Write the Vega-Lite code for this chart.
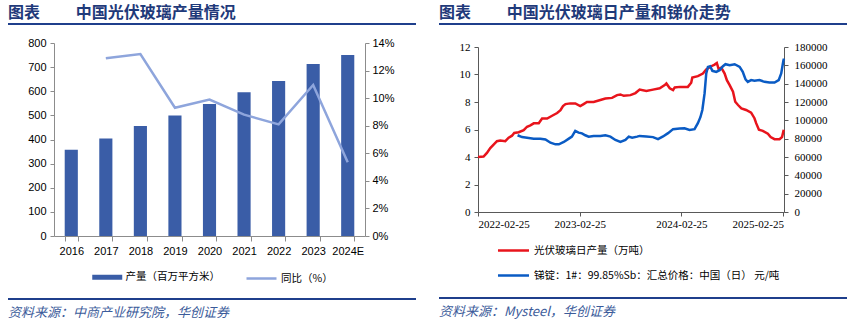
{
  "$schema": "https://vega.github.io/schema/vega-lite/v6.json",
  "background": "white",
  "padding": {"left": 8, "top": 5, "right": 5, "bottom": 0},
  "config": {"view": {"stroke": null}, "font": "Liberation Sans"},
  "resolve": {"scale": {"fill": "independent", "stroke": "independent"}, "legend": {"fill": "independent", "stroke": "independent"}},
  "datasets": {
    "prod": [
      {"year": "2016", "output": 357, "yoy": null},
      {"year": "2017", "output": 404, "yoy": 0.129},
      {"year": "2018", "output": 456, "yoy": 0.132},
      {"year": "2019", "output": 499, "yoy": 0.093},
      {"year": "2020", "output": 547, "yoy": 0.099},
      {"year": "2021", "output": 596, "yoy": 0.088},
      {"year": "2022", "output": 642, "yoy": 0.081},
      {"year": "2023", "output": 713, "yoy": 0.1095},
      {"year": "2024E", "output": 750, "yoy": 0.0535}
    ],
    "glass": [
      {"date": "2022-02-25", "v": 4.0},
      {"date": "2022-03-17", "v": 4.03},
      {"date": "2022-03-29", "v": 4.3},
      {"date": "2022-04-10", "v": 4.65},
      {"date": "2022-04-22", "v": 4.9},
      {"date": "2022-05-04", "v": 5.15},
      {"date": "2022-05-16", "v": 5.2},
      {"date": "2022-06-03", "v": 5.15},
      {"date": "2022-06-15", "v": 5.4},
      {"date": "2022-06-27", "v": 5.55},
      {"date": "2022-07-05", "v": 5.75},
      {"date": "2022-07-21", "v": 5.8},
      {"date": "2022-08-08", "v": 5.95},
      {"date": "2022-08-20", "v": 6.2},
      {"date": "2022-09-01", "v": 6.3},
      {"date": "2022-09-13", "v": 6.45},
      {"date": "2022-10-01", "v": 6.45},
      {"date": "2022-10-13", "v": 6.8},
      {"date": "2022-10-31", "v": 6.8},
      {"date": "2022-11-18", "v": 7.0},
      {"date": "2022-12-06", "v": 7.2},
      {"date": "2022-12-18", "v": 7.4},
      {"date": "2022-12-27", "v": 7.7},
      {"date": "2023-01-05", "v": 7.85},
      {"date": "2023-01-22", "v": 7.9},
      {"date": "2023-02-09", "v": 7.9},
      {"date": "2023-02-27", "v": 7.7},
      {"date": "2023-03-11", "v": 7.85},
      {"date": "2023-03-23", "v": 8.0},
      {"date": "2023-04-16", "v": 8.0},
      {"date": "2023-05-10", "v": 8.15},
      {"date": "2023-05-28", "v": 8.25},
      {"date": "2023-06-21", "v": 8.3},
      {"date": "2023-07-09", "v": 8.5},
      {"date": "2023-07-21", "v": 8.55},
      {"date": "2023-08-02", "v": 8.45},
      {"date": "2023-08-26", "v": 8.5},
      {"date": "2023-09-13", "v": 8.65},
      {"date": "2023-09-28", "v": 8.9},
      {"date": "2023-10-22", "v": 8.8},
      {"date": "2023-11-15", "v": 8.9},
      {"date": "2023-12-09", "v": 9.0},
      {"date": "2023-12-27", "v": 9.23},
      {"date": "2024-01-02", "v": 9.35},
      {"date": "2024-01-14", "v": 9.0},
      {"date": "2024-01-26", "v": 8.87},
      {"date": "2024-02-01", "v": 9.06},
      {"date": "2024-02-19", "v": 9.1},
      {"date": "2024-03-19", "v": 9.1},
      {"date": "2024-03-31", "v": 9.4},
      {"date": "2024-04-04", "v": 9.78},
      {"date": "2024-04-24", "v": 9.88},
      {"date": "2024-05-12", "v": 10.07},
      {"date": "2024-05-24", "v": 10.36},
      {"date": "2024-06-11", "v": 10.6},
      {"date": "2024-06-23", "v": 10.72},
      {"date": "2024-07-01", "v": 10.84},
      {"date": "2024-07-08", "v": 10.36},
      {"date": "2024-07-17", "v": 10.5},
      {"date": "2024-07-29", "v": 10.07},
      {"date": "2024-08-06", "v": 9.59},
      {"date": "2024-08-16", "v": 9.23},
      {"date": "2024-08-28", "v": 8.75},
      {"date": "2024-09-05", "v": 8.02},
      {"date": "2024-09-15", "v": 7.78},
      {"date": "2024-09-27", "v": 7.54},
      {"date": "2024-10-14", "v": 7.42},
      {"date": "2024-11-01", "v": 7.23},
      {"date": "2024-11-13", "v": 6.82},
      {"date": "2024-11-19", "v": 6.46},
      {"date": "2024-11-29", "v": 5.98},
      {"date": "2024-12-13", "v": 5.9},
      {"date": "2024-12-31", "v": 5.69},
      {"date": "2025-01-10", "v": 5.45},
      {"date": "2025-01-24", "v": 5.3},
      {"date": "2025-02-11", "v": 5.3},
      {"date": "2025-02-20", "v": 5.45},
      {"date": "2025-02-26", "v": 5.98}
    ],
    "sb": [
      {"date": "2022-07-17", "v": 83700},
      {"date": "2022-08-02", "v": 81750},
      {"date": "2022-08-20", "v": 81000},
      {"date": "2022-09-13", "v": 80000},
      {"date": "2022-10-07", "v": 80000},
      {"date": "2022-10-25", "v": 79200},
      {"date": "2022-11-12", "v": 75600},
      {"date": "2022-11-30", "v": 73800},
      {"date": "2022-12-12", "v": 73800},
      {"date": "2022-12-30", "v": 76400},
      {"date": "2023-01-17", "v": 80000},
      {"date": "2023-01-28", "v": 82200},
      {"date": "2023-02-09", "v": 88400},
      {"date": "2023-02-21", "v": 86600},
      {"date": "2023-03-05", "v": 85800},
      {"date": "2023-03-17", "v": 83700},
      {"date": "2023-03-29", "v": 82200},
      {"date": "2023-04-16", "v": 83000},
      {"date": "2023-05-10", "v": 83000},
      {"date": "2023-05-28", "v": 83700},
      {"date": "2023-06-15", "v": 82200},
      {"date": "2023-07-03", "v": 78600},
      {"date": "2023-07-21", "v": 76400},
      {"date": "2023-08-08", "v": 78600},
      {"date": "2023-08-20", "v": 82200},
      {"date": "2023-09-01", "v": 81000},
      {"date": "2023-09-19", "v": 82200},
      {"date": "2023-09-28", "v": 83000},
      {"date": "2023-10-22", "v": 82400},
      {"date": "2023-11-15", "v": 81700},
      {"date": "2023-12-03", "v": 79500},
      {"date": "2023-12-21", "v": 82400},
      {"date": "2024-01-08", "v": 86000},
      {"date": "2024-01-26", "v": 90400},
      {"date": "2024-02-19", "v": 91100},
      {"date": "2024-03-07", "v": 91400},
      {"date": "2024-03-25", "v": 89600},
      {"date": "2024-04-12", "v": 90400},
      {"date": "2024-04-24", "v": 96900},
      {"date": "2024-05-03", "v": 103400},
      {"date": "2024-05-10", "v": 111300},
      {"date": "2024-05-18", "v": 129400},
      {"date": "2024-05-24", "v": 151100},
      {"date": "2024-05-30", "v": 158300},
      {"date": "2024-06-07", "v": 159000},
      {"date": "2024-06-15", "v": 154000},
      {"date": "2024-06-29", "v": 152900},
      {"date": "2024-07-11", "v": 154700},
      {"date": "2024-07-23", "v": 159000},
      {"date": "2024-08-01", "v": 161200},
      {"date": "2024-08-16", "v": 160100},
      {"date": "2024-09-03", "v": 161200},
      {"date": "2024-09-21", "v": 158300},
      {"date": "2024-10-02", "v": 152900},
      {"date": "2024-10-12", "v": 144600},
      {"date": "2024-10-20", "v": 142000},
      {"date": "2024-11-01", "v": 143900},
      {"date": "2024-11-13", "v": 143100},
      {"date": "2024-12-01", "v": 143900},
      {"date": "2024-12-19", "v": 142000},
      {"date": "2025-01-06", "v": 141300},
      {"date": "2025-01-24", "v": 141300},
      {"date": "2025-02-08", "v": 143900},
      {"date": "2025-02-17", "v": 151100},
      {"date": "2025-02-25", "v": 165500},
      {"date": "2025-02-27", "v": 167300}
    ]
  },
  "spacing": 23,
  "hconcat": [
    {
      "spacing": 12,
      "resolve": {"scale": {"fill": "independent", "stroke": "independent"}, "legend": {"fill": "independent", "stroke": "independent"}},
      "vconcat": [
        {
          "width": 408,
          "height": 2,
          "view": {"fill": "#1f3f8c", "stroke": null},
          "title": {"text": "图表　　   中国光伏玻璃产量情况", "anchor": "start", "offset": 2, "font": "Noto Sans CJK SC", "fontSize": 16, "fontWeight": "bold", "color": "#1f3a7a"},
          "data": {"values": []},
          "mark": "rule",
          "encoding": {}
        },
        {
          "width": 357,
          "height": 193,
          "data": {"name": "prod"},
          "layer": [
            {
              "mark": {"type": "bar"},
              "encoding": {
                "x": {"field": "year", "type": "ordinal", "sort": null, "scale": {"paddingInner": 0.62, "paddingOuter": 0.31, "range": [46, 357]},
                  "axis": {"title": null, "labelAngle": 0, "tickBand": "extent", "domainColor": "#8c8c8c", "tickColor": "#8c8c8c", "tickSize": 5, "labelPadding": 4, "labelFont": "Liberation Sans", "labelFontSize": 11, "labelColor": "#000000"}},
                "y": {"field": "output", "type": "quantitative", "scale": {"domain": [0, 800]},
                  "axis": {"title": null, "offset": -46, "values": [0, 100, 200, 300, 400, 500, 600, 700, 800], "grid": false, "domainColor": "#8c8c8c", "tickColor": "#8c8c8c", "tickSize": 4, "labelPadding": 4, "labelFont": "Liberation Sans", "labelFontSize": 11, "labelColor": "#000000"}},
                "fill": {"datum": "产量（百万平方米）", "scale": {"range": ["#3a5da7"]},
                  "legend": {"orient": "none", "legendX": 92, "legendY": 227, "title": null, "padding": 2, "symbolType": "M-3,-0.5H3V0.5H-3Z", "symbolSize": 100, "symbolStrokeWidth": 0, "labelFont": "Noto Sans CJK SC", "labelFontSize": 10.5, "labelColor": "#000000", "labelOffset": 13}}
              }
            },
            {
              "mark": {"type": "line", "strokeWidth": 2.5},
              "encoding": {
                "x": {"field": "year", "type": "ordinal", "sort": null},
                "y": {"field": "yoy", "type": "quantitative", "scale": {"domain": [0, 0.14]},
                  "axis": {"title": null, "orient": "right", "format": ".0%", "values": [0, 0.02, 0.04, 0.06, 0.08, 0.1, 0.12, 0.14], "grid": false, "domainColor": "#8c8c8c", "tickColor": "#8c8c8c", "tickSize": 4, "labelPadding": 3, "labelFont": "Liberation Sans", "labelFontSize": 11, "labelColor": "#000000"}},
                "stroke": {"datum": "同比（%）", "scale": {"range": ["#8ea5dc"]},
                  "legend": {"orient": "none", "legendX": 245, "legendY": 227, "title": null, "padding": 2, "symbolType": "M-3,0H3", "symbolSize": 100, "symbolStrokeWidth": 2.5, "labelFont": "Noto Sans CJK SC", "labelFontSize": 10.5, "labelColor": "#000000", "labelOffset": 13}}
              }
            }
          ],
          "resolve": {"scale": {"y": "independent"}}
        },
        {
          "width": 408,
          "height": 2,
          "view": {"fill": "#1f3f8c", "stroke": null},
          "title": {"text": "资料来源：中商产业研究院，华创证券", "orient": "bottom", "anchor": "start", "offset": 7, "font": "Noto Sans CJK SC", "fontSize": 13, "fontStyle": "italic", "fontWeight": "normal", "color": "#3b5b9a"},
          "data": {"values": []},
          "mark": "rule",
          "encoding": {}
        }
      ]
    },
    {
      "spacing": 16,
      "resolve": {"scale": {"fill": "independent", "stroke": "independent"}, "legend": {"fill": "independent", "stroke": "independent"}},
      "vconcat": [
        {
          "width": 408,
          "height": 2,
          "view": {"fill": "#1f3f8c", "stroke": null},
          "title": {"text": "图表　　   中国光伏玻璃日产量和锑价走势", "anchor": "start", "offset": 2, "font": "Noto Sans CJK SC", "fontSize": 16, "fontWeight": "bold", "color": "#1f3a7a"},
          "data": {"values": []},
          "mark": "rule",
          "encoding": {}
        },
        {
          "width": 345,
          "height": 165,
          "layer": [
            {
              "data": {"name": "glass"},
              "mark": {"type": "line", "strokeWidth": 2.5},
              "encoding": {
                "x": {"field": "date", "type": "temporal",
                  "scale": {"type": "utc", "range": [39, 345], "domain": [{"year": 2022, "month": 2, "date": 25, "utc": true}, {"year": 2025, "month": 2, "date": 27, "utc": true}]},
                  "axis": {"title": null, "values": [{"year": 2022, "month": 2, "date": 25, "utc": true}, {"year": 2023, "month": 2, "date": 25, "utc": true}, {"year": 2024, "month": 2, "date": 25, "utc": true}, {"year": 2025, "month": 2, "date": 25, "utc": true}], "format": "%Y-%m-%d", "labelAngle": 0, "grid": false, "domainColor": "#595959", "tickColor": "#595959", "tickSize": 4, "labelPadding": 2, "labelFont": "Liberation Serif", "labelFontSize": 11, "labelColor": "#000000", "labelOverlap": false}},
                "y": {"field": "v", "type": "quantitative", "scale": {"domain": [0, 12]},
                  "axis": {"title": null, "offset": -39, "values": [0, 2, 4, 6, 8, 10, 12], "grid": false, "domainColor": "#595959", "tickColor": "#595959", "tickSize": 4, "labelPadding": 4, "labelFont": "Liberation Serif", "labelFontSize": 11, "labelColor": "#000000"}},
                "stroke": {"datum": "光伏玻璃日产量（万吨）",
                  "scale": {"domain": ["光伏玻璃日产量（万吨）", "锑锭：1#：99.85%Sb：汇总价格：中国（日） 元/吨"], "range": ["#e8141c", "#0a5bc4"]},
                  "legend": {"orient": "none", "legendX": 68, "legendY": 197, "title": null, "padding": 0, "direction": "vertical", "symbolType": "M-3,0H3", "symbolSize": 107, "symbolStrokeWidth": 2.5, "rowPadding": 13, "labelLimit": 400, "labelFont": "Noto Sans CJK SC", "labelFontSize": 10.5, "labelColor": "#000000", "labelOffset": 14}}
              }
            },
            {
              "data": {"name": "sb"},
              "mark": {"type": "line", "strokeWidth": 2.5},
              "encoding": {
                "x": {"field": "date", "type": "temporal", "axis": {"title": null, "values": [{"year": 2022, "month": 2, "date": 25, "utc": true}, {"year": 2023, "month": 2, "date": 25, "utc": true}, {"year": 2024, "month": 2, "date": 25, "utc": true}, {"year": 2025, "month": 2, "date": 25, "utc": true}], "format": "%Y-%m-%d", "labelAngle": 0, "grid": false, "domainColor": "#595959", "tickColor": "#595959", "tickSize": 4, "labelPadding": 2, "labelFont": "Liberation Serif", "labelFontSize": 11, "labelColor": "#000000", "labelOverlap": false}},
                "y": {"field": "v", "type": "quantitative", "scale": {"domain": [0, 180000]},
                  "axis": {"title": null, "orient": "right", "values": [0, 20000, 40000, 60000, 80000, 100000, 120000, 140000, 160000, 180000], "format": "d", "grid": false, "domainColor": "#595959", "tickColor": "#595959", "tickSize": 4, "labelPadding": 6, "labelFont": "Liberation Serif", "labelFontSize": 11, "labelColor": "#000000"}},
                "stroke": {"datum": "锑锭：1#：99.85%Sb：汇总价格：中国（日） 元/吨"}
              }
            }
          ],
          "resolve": {"scale": {"y": "independent"}}
        },
        {
          "width": 408,
          "height": 2,
          "view": {"fill": "#1f3f8c", "stroke": null},
          "title": {"text": "资料来源：Mysteel，华创证券", "orient": "bottom", "anchor": "start", "offset": 7, "font": "Noto Sans CJK SC", "fontSize": 13, "fontStyle": "italic", "fontWeight": "normal", "color": "#3b5b9a"},
          "data": {"values": []},
          "mark": "rule",
          "encoding": {}
        }
      ]
    }
  ]
}
